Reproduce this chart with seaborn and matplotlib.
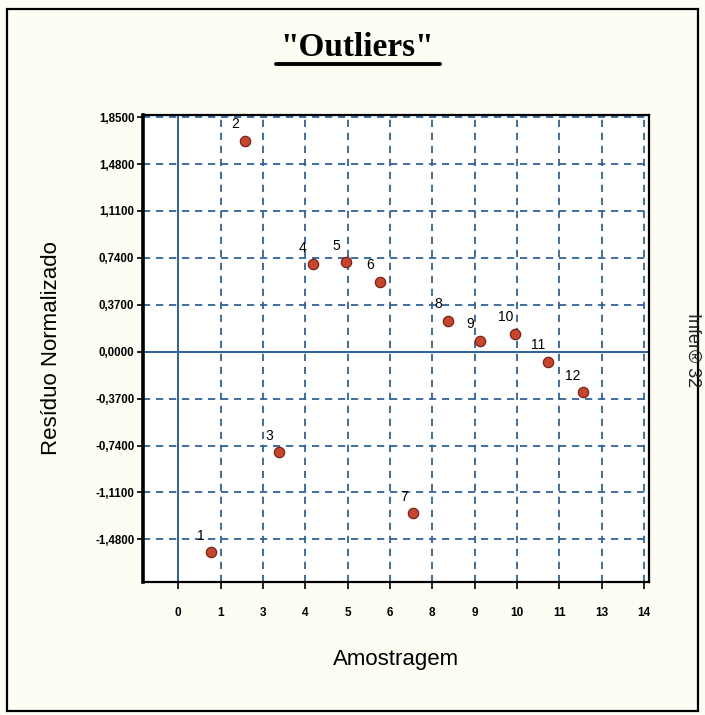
import matplotlib
matplotlib.use("Agg")
import matplotlib.pyplot as plt
from matplotlib.patches import Rectangle
from matplotlib.lines import Line2D
import numpy as np
import pandas as pd
import seaborn as sns

# sample index, normalised residual
sample_ids = ["1", "2", "3", "4", "5", "6", "7", "8", "9", "10", "11", "12"]
amostragem = [0.98, 2.01, 3.04, 4.04, 5.04, 6.06, 7.07, 8.10, 9.08, 10.12, 11.12, 12.16]
residuo = [-1.582, 1.664, -0.793, 0.689, 0.705, 0.552, -1.274, 0.242, 0.084, 0.142, -0.079, -0.320]

# axis ticks as shown (x labels are rounded values of 12 evenly spaced ticks)
x_tick_labels = ["0", "1", "3", "4", "5", "6", "8", "9", "10", "11", "13", "14"]
y_tick_values = [1.85, 1.48, 1.11, 0.74, 0.37, 0.0, -0.37, -0.74, -1.11, -1.48]

df = pd.DataFrame({"id": sample_ids, "x": amostragem, "y": residuo})

sns.set_style("white")
plt.rcParams["font.family"] = ["Liberation Sans", "DejaVu Sans"]
plt.rcParams["text.color"] = "black"
plt.rcParams["axes.labelcolor"] = "black"
plt.rcParams["xtick.color"] = "black"
plt.rcParams["ytick.color"] = "black"

W, H = 705, 715
fig = plt.figure(figsize=(W / 100, H / 100), dpi=100)
fig.patch.set_facecolor("#fdfdf4")

ax = fig.add_axes([142.7 / W, 1 - 581.7 / H, (649 - 142.7) / W, (581.7 - 115) / H])
ax.set_facecolor("white")

grid_blue = "#2f63a0"

ax.set_xlim(-1.07, 14.15)
ax.set_ylim(-1.814, 1.867)

x_ticks = np.linspace(0, 14, len(x_tick_labels))
ax.set_xticks(x_ticks)
ax.set_xticklabels(x_tick_labels)
ax.set_yticks(y_tick_values)
ax.set_yticklabels([f"{v:.4f}".replace(".", ",") for v in y_tick_values])

ax.grid(True, color=grid_blue, linestyle=(0, (4, 3.2)), linewidth=1.3, zorder=1)
ax.set_axisbelow(True)
ax.axhline(0, color=grid_blue, linewidth=1.4, zorder=2)
ax.axvline(0, color=grid_blue, linewidth=1.4, zorder=2)

sns.scatterplot(data=df, x="x", y="y", ax=ax, s=55, color="#c8462e",
                edgecolor="#7a2216", linewidth=0.9, zorder=4, legend=False)

for _, row in df.iterrows():
    ax.annotate(row["id"], (row["x"], row["y"]), textcoords="offset points",
                xytext=(-7, 7), ha="center", va="bottom", fontsize=10,
                color="black", zorder=5)

for side in ["top", "right", "bottom"]:
    ax.spines[side].set_color("black")
    ax.spines[side].set_linewidth(1.6)
ax.spines["left"].set_color("black")
ax.spines["left"].set_linewidth(2.6)

ax.tick_params(axis="x", direction="out", length=5, width=1.2, pad=13,
               labelsize=8.5, bottom=True)
ax.tick_params(axis="y", direction="out", length=4, width=1.2, pad=2,
               labelsize=8.3, left=True)
for lab in ax.get_xticklabels() + ax.get_yticklabels():
    lab.set_fontweight("bold")

ax.set_xlabel("Amostragem", fontsize=16, labelpad=22)
ax.set_ylabel("Resíduo Normalizado", fontsize=16, labelpad=24)

# title with underline
fig.text(357 / W, 1 - 48 / H, '"Outliers"', ha="center", va="center",
         fontsize=24, fontweight="bold", color="black",
         family=["Liberation Serif", "DejaVu Serif"])
fig.add_artist(Line2D([276 / W, 440 / W], [1 - 64 / H, 1 - 64 / H],
                      color="black", linewidth=2.8, transform=fig.transFigure))

fig.text(693 / W, 1 - 350 / H, "Infer® 32", rotation=-90, ha="center",
         va="center", fontsize=13, color="#222222")

# outer frame
fig.add_artist(Rectangle((7 / W, 1 - 711 / H), (698 - 7) / W, (711 - 9) / H,
                         fill=False, edgecolor="black", linewidth=1.6,
                         transform=fig.transFigure))

fig.savefig("out.png", dpi=100, facecolor=fig.get_facecolor())
